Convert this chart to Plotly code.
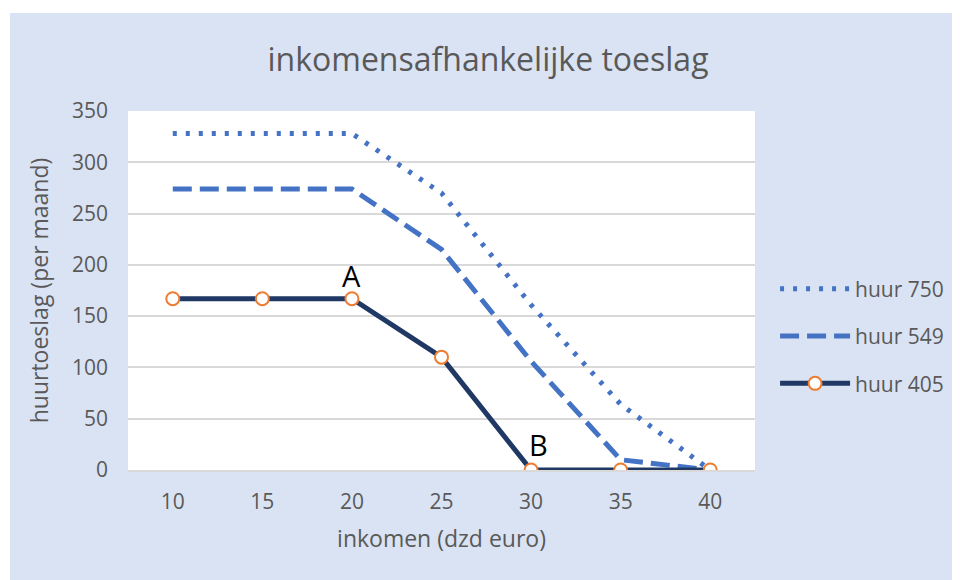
import plotly.graph_objects as go

inkomen = ["10", "15", "20", "25", "30", "35", "40"]
huur750 = [328, 328, 328, 270, 161, 64, 0]
huur549 = [274, 274, 274, 215, 106, 10, 0]
huur405 = [167, 167, 167, 110, 0, 0, 0]
y_ticks = [0, 50, 100, 150, 200, 250, 300, 350]
labels = {"A": "20", "B": "30"}

FONT = "Open Sans"
GREY = "#595959"
BG = "#dae3f3"

fig = go.Figure()
fig.add_trace(go.Scatter(
    x=inkomen, y=huur750, name="huur 750", mode="lines", legendgroup="a",
    line=dict(color="#4472c4", width=5, dash="4px,9px"),
))
fig.add_trace(go.Scatter(
    x=inkomen, y=huur549, name="huur 549", mode="lines", legendgroup="b",
    line=dict(color="#4472c4", width=5, dash="19px,8px"),
))
fig.add_trace(go.Scatter(
    x=inkomen, y=huur405, name="huur 405", mode="lines+markers", legendgroup="c",
    line=dict(color="#203864", width=5),
    marker=dict(symbol="circle", size=13, color="white",
                line=dict(color="#ed7d31", width=2)),
))

for txt, xcat in labels.items():
    idx = inkomen.index(xcat)
    fig.add_annotation(x=idx, y=huur405[idx], text=txt, showarrow=False,
                       yanchor="bottom", yshift=2 if txt == "A" else 4,
                       xshift=0 if txt == "A" else 7,
                       font=dict(family=FONT, size=29, color="black"))

# thin white strip at top/left of the original screenshot
fig.add_shape(type="rect", xref="paper", yref="paper",
              x0=-0.25, x1=-0.1882, y0=-0.5, y1=1.4,
              fillcolor="white", line=dict(width=0), layer="below")
fig.add_shape(type="rect", xref="paper", yref="paper",
              x0=-0.25, x1=1.5, y0=1.273, y1=1.4,
              fillcolor="white", line=dict(width=0), layer="below")

fig.update_layout(
    width=960, height=580,
    paper_bgcolor=BG, plot_bgcolor="white",
    margin=dict(l=120, r=213, t=103, b=118),
    title=dict(text="inkomensafhankelijke toeslag", x=0.5, xref="container",
               xanchor="center", y=1 - 52 / 580, yanchor="middle",
               font=dict(family=FONT, size=32, color=GREY)),
    font=dict(family=FONT, color=GREY),
    xaxis=dict(type="category", range=[-0.5, 6.5], showgrid=False,
               showline=True, linecolor="#d9d9d9", linewidth=1.5,
               tickfont=dict(size=21, color=GREY), ticks="",
               ticklabelstandoff=12,
               title=dict(text="inkomen (dzd euro)", standoff=17,
                          font=dict(size=23, color=GREY))),
    yaxis=dict(range=[0, 350], tickvals=y_ticks, showgrid=True,
               gridcolor="#d9d9d9", gridwidth=1.5, zeroline=False,
               showline=False, ticks="",
               tickfont=dict(size=21, color=GREY), ticklabelstandoff=19,
               title=dict(text="huurtoeslag (per maand)", standoff=16,
                          font=dict(size=23, color=GREY))),
    legend=dict(x=1.032, xanchor="left", y=0.373, yanchor="middle",
                bgcolor="rgba(0,0,0,0)", itemwidth=70,
                tracegroupgap=17, traceorder="grouped",
                font=dict(family=FONT, size=21, color=GREY)),
    showlegend=True,
)

fig.write_html("out.html")
